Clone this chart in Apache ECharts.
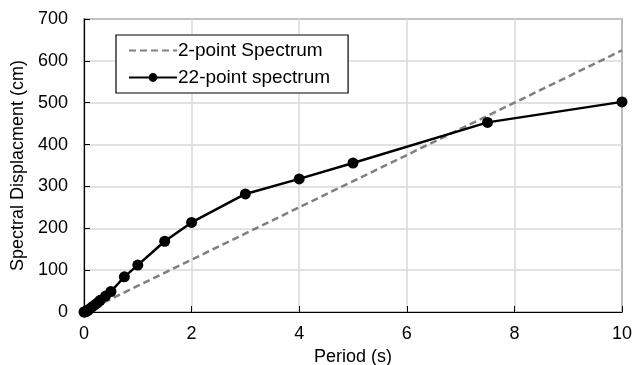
<!DOCTYPE html>
<html>
<head>
<meta charset="utf-8">
<script src="https://cdn.jsdelivr.net/npm/echarts@6/dist/echarts.min.js"></script>
<style>html,body{margin:0;padding:0;background:#fff;}#c{width:633px;height:365px;}</style>
</head>
<body>
<div id="c"></div>
<script>
const seriesNames = ['2-point Spectrum', '22-point spectrum'];
const twoPointPeriods = [0, 10];
const twoPointValues = [0, 625];
const periods = [0, 0.01, 0.02, 0.03, 0.05, 0.075, 0.1, 0.15, 0.2, 0.25, 0.3, 0.4, 0.5, 0.75, 1, 1.5, 2, 3, 4, 5, 7.5, 10];
const values = [0, 0.2, 0.5, 1, 2, 4, 7, 12, 17, 22, 28, 38, 49, 84, 112, 169, 214, 282, 318, 356, 453, 502];
const xTicks = [0, 2, 4, 6, 8, 10];
const yTicks = [0, 100, 200, 300, 400, 500, 600, 700];

const font = 'Liberation Sans, Arial, sans-serif';
const chart = echarts.init(document.getElementById('c'), null, {renderer: 'canvas'});
chart.setOption({
  animation: false,
  backgroundColor: '#fff',
  grid: {left: 84, right: 11, top: 19, bottom: 53, show: true, borderColor: '#000', borderWidth: 1.2, containLabel: false, outerBoundsMode: 'none'},
  legend: {
    orient: 'vertical', left: 116, top: 35,
    padding: [6, 18, 6, 12], itemGap: 8,
    backgroundColor: '#fff', borderColor: '#000', borderWidth: 1.2,
    itemWidth: 48, itemHeight: 11,
    textStyle: {fontFamily: font, fontSize: 19, color: '#000', padding: [0, 0, 0, -4]},
    data: [
      {name: seriesNames[0], itemStyle: {opacity: 0}},
      {name: seriesNames[1]}
    ]
  },
  xAxis: {
    type: 'value', min: xTicks[0], max: xTicks[xTicks.length - 1], interval: 2,
    name: 'Period (s)', nameLocation: 'middle', nameGap: 33,
    nameTextStyle: {fontFamily: font, fontSize: 18, color: '#000'},
    axisLine: {show: true, onZero: false, lineStyle: {color: '#000', width: 1.2}},
    axisTick: {show: true, inside: true, length: 6, lineStyle: {color: '#000'}},
    axisLabel: {fontFamily: font, fontSize: 18, color: '#000', margin: 13},
    splitLine: {show: true, lineStyle: {color: '#d9d9d9', width: 1.5}}
  },
  yAxis: {
    type: 'value', min: yTicks[0], max: yTicks[yTicks.length - 1], interval: 100,
    name: 'Spectral Displacment (cm)', nameLocation: 'middle', nameGap: 50,
    nameTextStyle: {fontFamily: font, fontSize: 18, color: '#000'},
    axisLine: {show: true, lineStyle: {color: '#000', width: 1.2}},
    axisTick: {show: true, inside: true, length: 6, lineStyle: {color: '#000'}},
    axisLabel: {fontFamily: font, fontSize: 18, color: '#000', margin: 16},
    splitLine: {show: true, lineStyle: {color: '#d9d9d9', width: 1.5}}
  },
  series: [
    {
      name: seriesNames[0], type: 'line',
      data: twoPointPeriods.map((p, i) => [p, twoPointValues[i]]),
      showSymbol: false, symbol: 'none',
      lineStyle: {color: '#7f7f7f', width: 2.5, type: [7, 4]},
      itemStyle: {color: '#7f7f7f'}
    },
    {
      name: seriesNames[1], type: 'line',
      data: periods.map((p, i) => [p, values[i]]),
      symbol: 'circle', symbolSize: 11,
      lineStyle: {color: '#000', width: 2.5},
      itemStyle: {color: '#000'}
    }
  ]
});
</script>
</body>
</html>
